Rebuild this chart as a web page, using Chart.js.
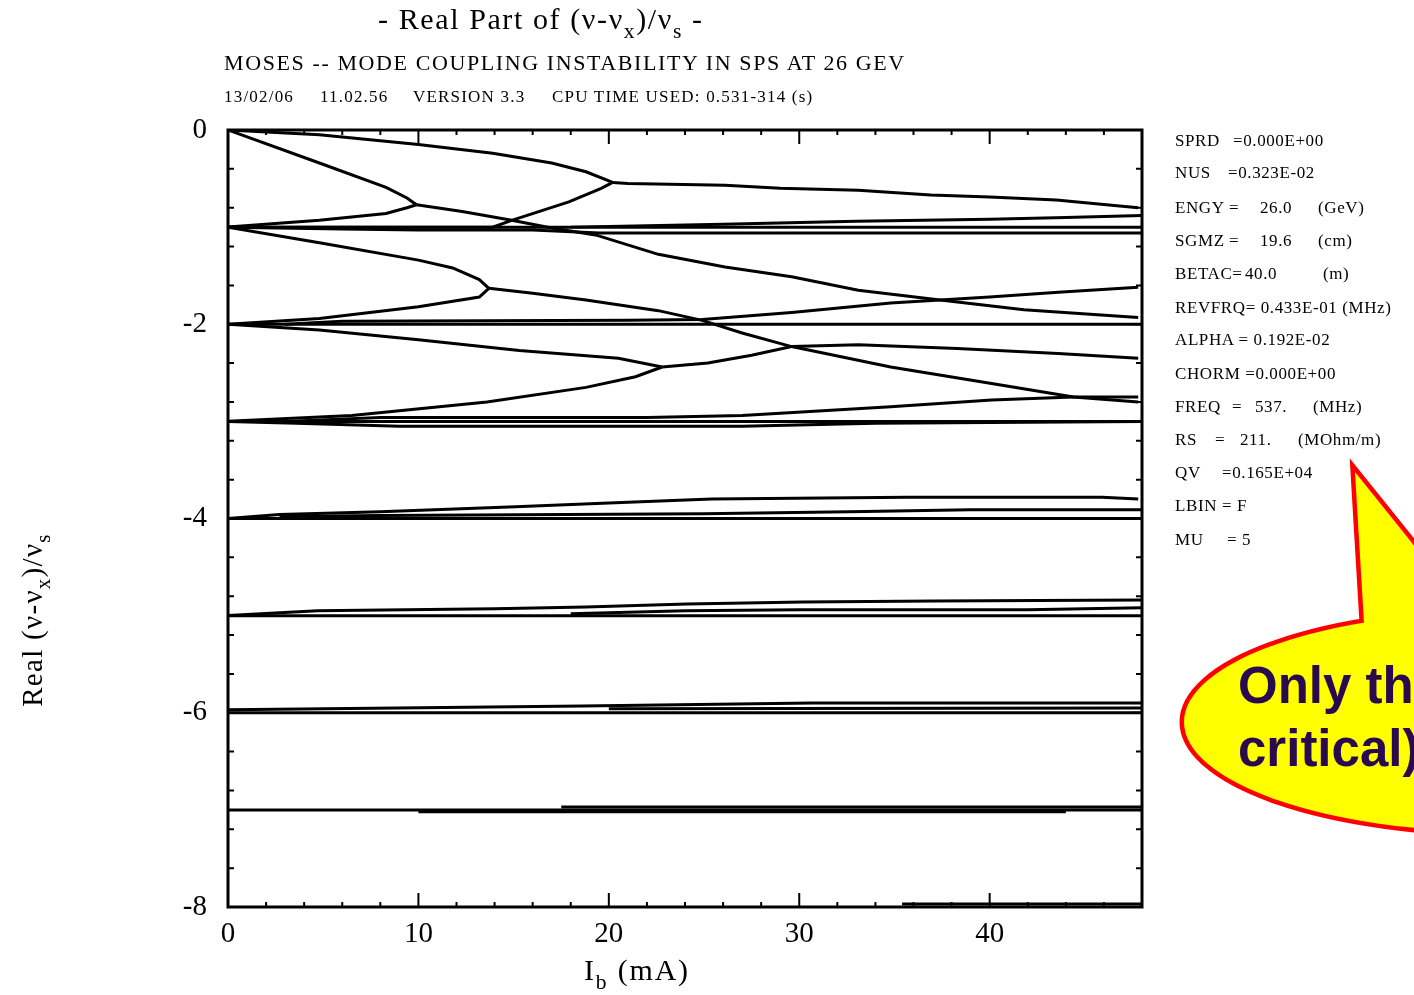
<!DOCTYPE html>
<html lang="en">
<head>
<meta charset="UTF-8">
<title>Real Part of (ν-νx)/νs</title>
<style>
  body { margin: 0; background: #fff; }
  #wrap { position: relative; width: 1414px; height: 995px; overflow: hidden;
          font-family: "Liberation Serif", "DejaVu Serif", serif; color: #000; }
  #chartBox { position: absolute; left: 0; top: 0; width: 1414px; height: 995px; }
  .t { position: absolute; white-space: pre; line-height: 1; }
  .t sub, #ytitle sub { font-size: 72%; vertical-align: -0.4em; line-height: 0; }
  .param { position: absolute; left: 1175px; width: 240px; height: 18px; font-size: 17px; letter-spacing: 0.6px; }
  .param span { position: absolute; top: 0; white-space: pre; line-height: 1; }
  #ytitle { position: absolute; left: 32px; top: 620px; transform: translate(-50%, -50%) rotate(-90deg);
            font-size: 29px; letter-spacing: 1.3px; white-space: pre; line-height: 1; }
  svg { position: absolute; left: 0; top: 0; }
</style>
</head>
<body>
<div id="wrap">
  <div id="chartBox"><canvas id="myChart"></canvas></div>

  <div class="t" style="left:378px; top:4px; font-size:30px; letter-spacing:1.6px;">- Real Part of (ν-ν<sub>x</sub>)/ν<sub>s</sub> -</div>
  <div class="t" style="left:224px; top:52px; font-size:22px; letter-spacing:1.6px;">MOSES -- MODE COUPLING INSTABILITY IN SPS AT 26 GEV</div>
  <div class="t" style="left:224px; top:88px; font-size:17px; letter-spacing:1.2px;">13/02/06</div>
  <div class="t" style="left:320px; top:88px; font-size:17px; letter-spacing:1.2px;">11.02.56</div>
  <div class="t" style="left:413px; top:88px; font-size:17px; letter-spacing:1.2px;">VERSION 3.3</div>
  <div class="t" style="left:552px; top:88px; font-size:17px; letter-spacing:1.2px;">CPU TIME USED: 0.531-314 (s)</div>

  <div class="param" style="top:132px;"><span style="left:0">SPRD</span><span style="left:58px">=0.000E+00</span></div>
  <div class="param" style="top:164px;"><span style="left:0">NUS</span><span style="left:53px">=0.323E-02</span></div>
  <div class="param" style="top:199px;"><span style="left:0">ENGY</span><span style="left:54px">=</span><span style="left:85px">26.0</span><span style="left:143px">(GeV)</span></div>
  <div class="param" style="top:232px;"><span style="left:0">SGMZ</span><span style="left:54px">=</span><span style="left:85px">19.6</span><span style="left:143px">(cm)</span></div>
  <div class="param" style="top:265px;"><span style="left:0">BETAC=</span><span style="left:70px">40.0</span><span style="left:148px">(m)</span></div>
  <div class="param" style="top:299px;"><span style="left:0">REVFRQ= 0.433E-01 (MHz)</span></div>
  <div class="param" style="top:331px;"><span style="left:0">ALPHA = 0.192E-02</span></div>
  <div class="param" style="top:365px;"><span style="left:0">CHORM =0.000E+00</span></div>
  <div class="param" style="top:398px;"><span style="left:0">FREQ</span><span style="left:57px">=</span><span style="left:80px">537.</span><span style="left:138px">(MHz)</span></div>
  <div class="param" style="top:431px;"><span style="left:0">RS</span><span style="left:40px">=</span><span style="left:65px">211.</span><span style="left:123px">(MOhm/m)</span></div>
  <div class="param" style="top:464px;"><span style="left:0">QV</span><span style="left:47px">=0.165E+04</span></div>
  <div class="param" style="top:497px;"><span style="left:0">LBIN</span><span style="left:47px">= F</span></div>
  <div class="param" style="top:531px;"><span style="left:0">MU</span><span style="left:52px">= 5</span></div>

  <div class="t" style="left:584px; top:955px; font-size:30px; letter-spacing:1.8px;">I<sub>b</sub> (mA)</div>
  <div id="ytitle">Real (ν-ν<sub>x</sub>)/ν<sub>s</sub></div>

  <svg width="1414" height="995">
    <g fill="#ff0000" stroke="#ff0000" stroke-width="9" stroke-linejoin="miter">
      <ellipse cx="1500" cy="722" rx="316" ry="110"/>
      <polygon points="1355,472 1365,640 1490,640"/>
    </g>
    <g fill="#ffff00">
      <ellipse cx="1500" cy="722" rx="316" ry="110"/>
      <polygon points="1355,472 1365,640 1490,640"/>
    </g>
    <text x="1238" y="703" font-family="Liberation Sans, Arial, sans-serif" font-weight="bold" font-size="51" fill="#2a0a4e">Only th</text>
    <text x="1238" y="766" font-family="Liberation Sans, Arial, sans-serif" font-weight="bold" font-size="51" fill="#2a0a4e">critical)</text>
  </svg>
</div>

<script src="https://cdn.jsdelivr.net/npm/chart.js"></script>
<script>
// tick labels
const xTickValues = [0, 10, 20, 30, 40];
const yTickValues = [0, -2, -4, -6, -8];

// curves: [Ib (mA), Re((nu-nux)/nus)]
const mode0Top      = [[0,0],[4.8,-0.05],[10,-0.15],[13.9,-0.24],[17,-0.34],[18.8,-0.43],[20.2,-0.54]];
const coupledTop    = [[20.2,-0.54],[21,-0.55],[26.1,-0.57],[29,-0.6],[33.1,-0.62],[36.9,-0.67],[40,-0.69],[43.5,-0.72],[47.8,-0.8]];
const mode1Rise     = [[0,-1],[13.9,-1],[14.9,-0.93],[17.9,-0.74],[19.6,-0.6],[20.2,-0.54]];
const mode0Steep    = [[0,0],[4.8,-0.34],[8.3,-0.59],[9.4,-0.7],[9.9,-0.77]];
const mode1Up       = [[0,-1],[4.8,-0.93],[8.3,-0.86],[9.4,-0.8],[9.9,-0.77]];
const coupledA      = [[9.9,-0.77],[12.3,-0.84],[14.9,-0.93],[17,-1.01],[19.3,-1.08],[22.6,-1.28],[26.1,-1.41],[29.6,-1.51],[33.1,-1.65],[37.4,-1.75],[41.8,-1.85],[47.8,-1.93]];
const mode1Down     = [[0,-1],[4.8,-1.16],[10,-1.34],[11.8,-1.42],[13.2,-1.54],[13.7,-1.63]];
const mode2Up       = [[0,-2],[4.8,-1.94],[10,-1.82],[13.2,-1.72],[13.7,-1.63]];
const coupledB      = [[13.7,-1.63],[16,-1.68],[18.8,-1.75],[22.6,-1.86],[24.9,-1.96],[27,-2.09],[29.6,-2.23],[34.8,-2.44],[40.1,-2.61],[44.4,-2.75],[47.8,-2.8]];
const mode2Rise     = [[3,-2],[6,-1.97],[21,-1.96],[24.9,-1.95],[29.6,-1.88],[34.8,-1.78],[40,-1.72],[43.6,-1.67],[47.8,-1.62]];
const mode2Down     = [[0,-2],[4.8,-2.06],[10,-2.16],[15.3,-2.27],[20.5,-2.35],[22.8,-2.44]];
const mode3Up       = [[0,-3],[6.5,-2.94],[13.6,-2.8],[18.8,-2.65],[21.4,-2.54],[22.8,-2.44]];
const coupledC      = [[22.8,-2.44],[25.2,-2.4],[27.5,-2.32],[29.6,-2.23],[33.1,-2.21],[38.3,-2.25],[43.6,-2.3],[47.8,-2.35]];
const mode3Rise     = [[3,-3],[8,-2.96],[22,-2.96],[27,-2.94],[34.8,-2.85],[40.1,-2.78],[44.4,-2.75],[47.8,-2.75]];
const mode3Low      = [[0,-3],[3.6,-3.02],[9,-3.05],[27,-3.05],[34,-3.02],[48,-3]];
const mode1Low      = [[0,-1],[6,-1.02],[10,-1.03],[16,-1.03],[19.5,-1.06],[48,-1.06]];
const mode1High     = [[18,-1],[26,-0.97],[33,-0.94],[40,-0.92],[44,-0.9],[48,-0.88]];
const mode4Rise     = [[0,-4],[2.7,-3.96],[8,-3.93],[15.1,-3.88],[20,-3.84],[25.4,-3.8],[35.7,-3.78],[45.9,-3.78],[47.8,-3.8]];
const mode4Mid      = [[2.7,-3.98],[8,-3.97],[25,-3.95],[32.6,-3.93],[39,-3.91],[48,-3.91]];
const mode5Rise     = [[0,-5],[4.7,-4.95],[14,-4.93],[18.8,-4.91],[24.1,-4.88],[30.2,-4.86],[37.1,-4.85],[48,-4.84]];
const mode5Mid      = [[18,-4.98],[24,-4.95],[30,-4.94],[42,-4.94],[48,-4.92]];
const mode6Rise     = [[0,-5.97],[8.9,-5.95],[18.6,-5.93],[30.7,-5.9],[48,-5.9]];
const mode6Mid      = [[20,-5.96],[48,-5.95]];
const mode7Rise     = [[17.5,-6.97],[48,-6.97]];
const mode7Low      = [[10,-7.02],[44,-7.02]];
const mode8Rise     = [[35.4,-7.97],[48,-7.97]];
const flat1 = [[0,-1],[48,-1]];
const flat2 = [[0,-2],[48,-2]];
const flat3 = [[0,-3],[48,-3]];
const flat4 = [[0,-4],[48,-4]];
const flat5 = [[0,-5],[48,-5]];
const flat6 = [[0,-6],[48,-6]];
const flat7 = [[0,-7],[48,-7]];

const curves = [mode0Top, coupledTop, mode1Rise, mode0Steep, mode1Up, coupledA, mode1Down, mode2Up,
  coupledB, mode2Rise, mode2Down, mode3Up, coupledC, mode3Rise, mode3Low, mode1Low, mode1High,
  mode4Rise, mode4Mid, mode5Rise, mode5Mid, mode6Rise, mode6Mid, mode7Rise, mode7Low, mode8Rise,
  flat1, flat2, flat3, flat4, flat5, flat6, flat7];

// inward ticks on all four sides + heavy frame
const frameTicks = {
  id: 'frameTicks',
  afterDatasetsDraw(chart) {
    const { ctx, chartArea: a, scales: { x, y } } = chart;
    ctx.save();
    ctx.strokeStyle = '#000';
    ctx.lineWidth = 2;
    ctx.beginPath();
    for (let v = 0; v <= 48; v += 2) {
      const px = x.getPixelForValue(v);
      const len = v % 10 === 0 ? 14 : 5;
      ctx.moveTo(px, a.top); ctx.lineTo(px, a.top + len);
      ctx.moveTo(px, a.bottom); ctx.lineTo(px, a.bottom - len);
    }
    for (let i = 0; i <= 20; i++) {
      const py = y.getPixelForValue(-0.4 * i);
      const len = i % 5 === 0 ? 12 : 6;
      ctx.moveTo(a.left, py); ctx.lineTo(a.left + len, py);
      ctx.moveTo(a.right, py); ctx.lineTo(a.right - len, py);
    }
    ctx.stroke();
    ctx.lineWidth = 3;
    ctx.strokeRect(a.left, a.top, a.right - a.left, a.bottom - a.top);
    ctx.restore();
  }
};

const tickFont = { family: '"Liberation Serif", "DejaVu Serif", serif', size: 29 };

new Chart(document.getElementById('myChart'), {
  type: 'line',
  data: {
    datasets: curves.map(c => ({
      data: c.map(p => ({ x: p[0], y: p[1] })),
      borderColor: '#000',
      borderWidth: 3,
      pointRadius: 0,
      tension: 0,
      fill: false
    }))
  },
  options: {
    responsive: true,
    maintainAspectRatio: false,
    animation: false,
    layout: { padding: { top: 130, right: 272, left: 0, bottom: 0 } },
    plugins: { legend: { display: false }, tooltip: { enabled: false } },
    scales: {
      x: {
        type: 'linear', min: 0, max: 48,
        grid: { display: false, drawTicks: false },
        border: { display: false },
        afterBuildTicks: s => { s.ticks = xTickValues.map(v => ({ value: v })); },
        afterFit: s => { s.height = 88; },
        ticks: { padding: 10, color: '#000', font: tickFont, maxRotation: 0 }
      },
      y: {
        type: 'linear', min: -8, max: 0,
        grid: { display: false, drawTicks: false },
        border: { display: false },
        afterBuildTicks: s => { s.ticks = yTickValues.map(v => ({ value: v })); },
        afterFit: s => { s.width = 228; },
        ticks: { padding: 21, color: '#000', font: tickFont }
      }
    }
  },
  plugins: [frameTicks]
});
</script>
</body>
</html>
